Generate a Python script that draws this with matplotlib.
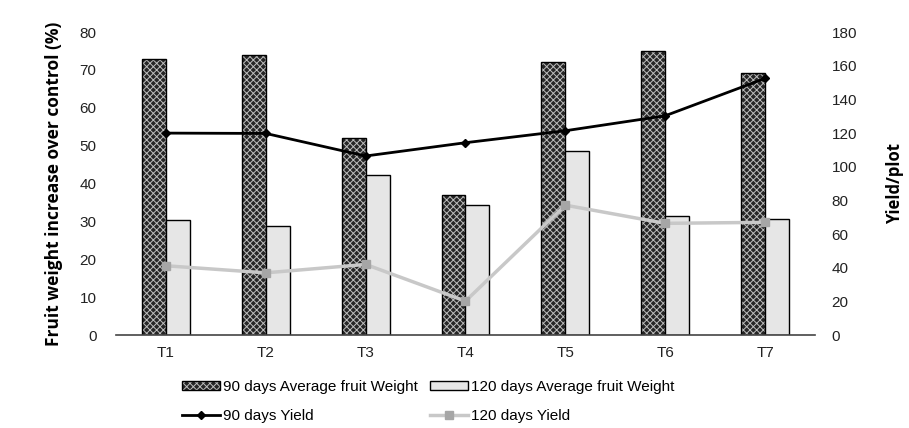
import numpy as np
import matplotlib.pyplot as plt
from matplotlib.lines import Line2D
from matplotlib.patches import Patch

plt.rcParams['font.family'] = ['Liberation Sans', 'DejaVu Sans']
plt.rcParams['hatch.linewidth'] = 0.7

# treatments and measured values
treatments = ['T1', 'T2', 'T3', 'T4', 'T5', 'T6', 'T7']
fw_90 = [73, 74, 52, 37, 72, 75, 69.2]       # fruit weight increase (%), 90 days
fw_120 = [30.5, 28.8, 42.3, 34.3, 48.5, 31.4, 30.6]  # fruit weight increase (%), 120 days
yield_90 = [120, 119.8, 106.4, 114.3, 121.4, 130.3, 152.5]
yield_120 = [41.2, 37, 42, 20.2, 77.2, 66.4, 67]

x = np.arange(len(treatments))
w = 0.24

fig = plt.figure(figsize=(9.09, 4.28), dpi=100)
ax = fig.add_axes([0.1276, 0.217, 0.769, 0.708])
ax2 = ax.twinx()

# dark patterned bars: black fill, light hatch on top, black outline
dark_kw = dict(facecolor='#262626', edgecolor='#bdbdbd', hatch='xxxxx', linewidth=0)
ax.bar(x - w/2, fw_90, w, zorder=2, **dark_kw)
ax.bar(x - w/2, fw_90, w, facecolor='none', edgecolor='black', linewidth=1.0, zorder=2)
ax.bar(x + w/2, fw_120, w, facecolor='#e6e6e6', edgecolor='black', linewidth=1.0, zorder=2)

ax2.plot(x, yield_90, color='black', lw=2, marker='D', ms=4.5, zorder=3)
ax2.plot(x, yield_120, color='#c8c8c8', lw=2.5, marker='s', ms=6,
         markerfacecolor='#a6a6a6', markeredgecolor='#a6a6a6', zorder=3)

ax.set_xlim(-0.5, len(treatments) - 0.5)
ax.set_ylim(0, 80)
ax.set_yticks(range(0, 81, 10))
ax2.set_ylim(0, 180)
ax2.set_yticks(range(0, 181, 20))
ax.set_xticks(x)
ax.set_xticklabels(treatments)

for a in (ax, ax2):
    for s in ('top', 'left', 'right', 'bottom'):
        a.spines[s].set_visible(False)
    a.tick_params(length=0, labelsize=11, colors='#222222')
ax.axhline(0, color='#444444', lw=1.2, zorder=4, clip_on=False)
ax.tick_params(axis='y', pad=14)
ax2.tick_params(axis='y', pad=12)
ax.tick_params(axis='x', pad=8)

ax.set_ylabel('Fruit weight increase over control (%)', fontsize=12.5, fontweight='bold',
              family=['Open Sans', 'DejaVu Sans'], labelpad=12)
ax2.set_ylabel('Yield/plot', fontsize=12, fontweight='bold',
               family=['Open Sans', 'DejaVu Sans'], labelpad=21)

dark_handle = (Patch(**dark_kw), Patch(facecolor='none', edgecolor='black', linewidth=1.0))
light_handle = Patch(facecolor='#e6e6e6', edgecolor='black', linewidth=1.0)
line90 = Line2D([], [], color='black', lw=2, marker='D', ms=4.5)
line120 = Line2D([], [], color='#c8c8c8', lw=2.5, marker='s', ms=6,
                 markerfacecolor='#a6a6a6', markeredgecolor='#a6a6a6')
fig.legend([dark_handle, line90, light_handle, line120],
           ['90 days Average fruit Weight', '90 days Yield',
            '120 days Average fruit Weight', '120 days Yield'],
           ncol=2, loc='lower center', bbox_to_anchor=(0.471, -0.02),
           frameon=False, fontsize=11, handlelength=2.5, handleheight=0.55,
           handletextpad=0.2, columnspacing=0.8, labelspacing=0.95)

fig.savefig('out.png', dpi=100)
